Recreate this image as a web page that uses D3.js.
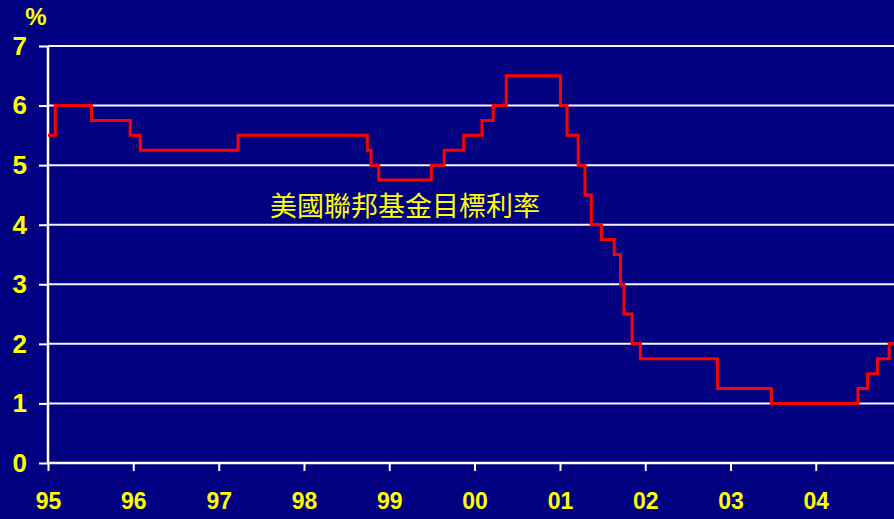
<!DOCTYPE html>
<html>
<head>
<meta charset="utf-8">
<script src="https://cdn.jsdelivr.net/npm/d3@7"></script>
<style>
  html, body { margin: 0; padding: 0; background: #000080; }
  svg { display: block; }
</style>
</head>
<body>
<svg id="chart" width="894" height="519"></svg>
<script>
// Fed funds target rate: dates of change and new level (%)
const changeDates = ["1995-01-01","1995-02-01","1995-07-06","1995-12-19","1996-01-31","1997-03-25",
  "1998-09-29","1998-10-15","1998-11-17","1999-06-30","1999-08-24","1999-11-16","2000-02-02",
  "2000-03-21","2000-05-16","2001-01-03","2001-01-31","2001-03-20","2001-04-18","2001-05-15",
  "2001-06-27","2001-08-21","2001-09-17","2001-10-02","2001-11-06","2001-12-11","2002-11-06",
  "2003-06-25","2004-06-30","2004-08-10","2004-09-21","2004-11-10","2004-12-01"];
const rates = [5.5,6.0,5.75,5.5,5.25,5.5,5.25,5.0,4.75,5.0,5.25,5.5,5.75,6.0,6.5,6.0,5.5,5.0,4.5,4.0,
  3.75,3.5,3.0,2.5,2.0,1.75,1.25,1.0,1.25,1.5,1.75,2.0,2.0];
const yTicks = [0,1,2,3,4,5,6,7];
const xTickYears = ["1995","1996","1997","1998","1999","2000","2001","2002","2003","2004"];
const xDomain = ["1995-01-01","2004-12-01"];
const seriesLabel = "美國聯邦基金目標利率";
const unitLabel = "%";

const parse = d3.timeParse("%Y-%m-%d");
const data = changeDates.map((d, i) => ({ date: parse(d), value: rates[i] }));

const svg = d3.select("#chart");
const W = 894, H = 519;
const m = { left: 48, right: 0, top: 46, bottom: 56 };

svg.append("rect").attr("width", W).attr("height", H).attr("fill", "#000080");

const x = d3.scaleTime().domain(xDomain.map(parse)).range([m.left, W - m.right]);
const y = d3.scaleLinear().domain([0, 7]).range([H - m.bottom, m.top]);

// gridlines with left ticks
const yAxis = d3.axisLeft(y).tickValues(yTicks).tickSize(9).tickPadding(12).tickFormat(d3.format("d"));
const gy = svg.append("g").attr("transform", `translate(${m.left},0)`).call(yAxis);
gy.select(".domain").remove();
gy.selectAll(".tick line").attr("stroke", "#ffffff").attr("stroke-width", 2)
  .attr("x1", 0).attr("x2", -9);
gy.selectAll(".tick text").attr("fill", "#ffff00").attr("font-family", "Liberation Sans, Arial, sans-serif")
  .attr("font-weight", "bold").attr("font-size", "26px");

svg.append("g").selectAll("line").data(yTicks.filter(d => d > 0)).join("line")
  .attr("x1", m.left).attr("x2", W).attr("y1", d => y(d)).attr("y2", d => y(d))
  .attr("stroke", "#f4f4ff").attr("stroke-width", 2);

// x axis
const xAxis = d3.axisBottom(x).tickValues(xTickYears.map(s => parse(s + "-01-01")))
  .tickSize(8).tickPadding(22).tickFormat(d3.timeFormat("%y"));
const gx = svg.append("g").attr("transform", `translate(0,${y(0)})`).call(xAxis);
gx.select(".domain").remove();
gx.selectAll(".tick line").attr("stroke", "#ffffff").attr("stroke-width", 2);
gx.selectAll(".tick text").attr("fill", "#ffff00").attr("font-family", "Liberation Sans, Arial, sans-serif")
  .attr("font-weight", "bold").attr("font-size", "23px");

// axis lines
svg.append("line").attr("x1", m.left).attr("x2", W).attr("y1", y(0)).attr("y2", y(0))
  .attr("stroke", "#ffffff").attr("stroke-width", 2.5);
svg.append("line").attr("x1", m.left).attr("x2", m.left).attr("y1", y(7)).attr("y2", y(0) + 1)
  .attr("stroke", "#ffffff").attr("stroke-width", 2.5);

// series
const line = d3.line().x(d => x(d.date)).y(d => y(d.value)).curve(d3.curveStepAfter);
svg.append("path").datum(data).attr("d", line).attr("fill", "none")
  .attr("stroke", "#ff0000").attr("stroke-width", 3).attr("stroke-linejoin", "miter");

// labels
svg.append("text").attr("x", 36).attr("y", 25).attr("text-anchor", "middle")
  .attr("fill", "#ffff00").attr("font-family", "Liberation Sans, Arial, sans-serif")
  .attr("font-weight", "bold").attr("font-size", "24px").text(unitLabel);

svg.append("text").attr("x", 405).attr("y", 204).attr("text-anchor", "middle")
  .attr("dominant-baseline", "central")
  .attr("fill", "#ffff00").attr("font-family", "Noto Sans CJK TC, sans-serif")
  .attr("font-size", "27px").text(seriesLabel);
</script>
</body>
</html>
